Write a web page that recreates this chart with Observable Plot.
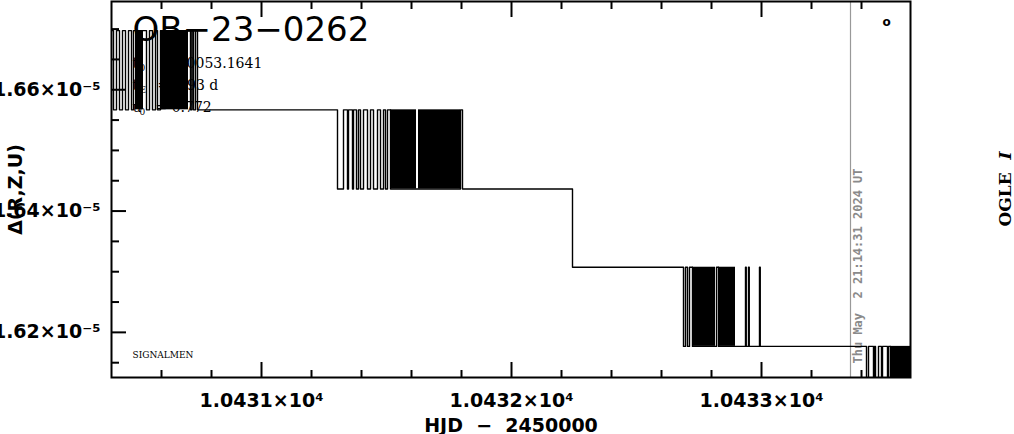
<!DOCTYPE html>
<html><head><meta charset="utf-8">
<script src="https://cdn.jsdelivr.net/npm/d3@7"></script>
<script src="https://cdn.jsdelivr.net/npm/@observablehq/plot@0.6"></script>
<style>body{margin:0;background:#fff;}</style>
</head><body><div id="chart"></div>
<script>
// Step levels of Δ(R,Z,U)
const levels = [1.66975e-5, 1.65669e-5, 1.64364e-5, 1.63074e-5, 1.61769e-5, 1.60463e-5];

// Trace: switch times (HJD-2450000) and level index held after each time
const traceHJD = [
  10430.400, 10430.408, 10430.420, 10430.432, 10430.444, 10430.456, 10430.468, 10430.480, 10430.488,
  10430.540, 10430.552, 10430.564, 10430.576, 10430.584, 10430.596,
  10430.716, 10430.722, 10430.728, 10430.736, 10430.744,
  10431.304, 10431.328, 10431.344, 10431.348, 10431.364, 10431.368, 10431.380, 10431.388, 10431.396,
  10431.408, 10431.424, 10431.436, 10431.448, 10431.464, 10431.476, 10431.488, 10431.496, 10431.504,
  10431.516, 10431.796, 10431.804,
  10432.244,
  10432.688, 10432.696, 10432.704, 10432.712, 10432.724, 10432.820, 10432.828,
  10432.936, 10432.939, 10432.948, 10432.951, 10432.992, 10432.995,
  10433.420, 10433.428, 10433.448, 10433.452, 10433.456, 10433.468, 10433.480, 10433.484,
  10433.504, 10433.508, 10433.516, 10433.596
];
const traceLevel = [
  0, 1, 0, 1, 0, 1, 0, 1, 0,
  1, 0, 1, 0, 1, 0,
  1, 0, 1, 0, 1,
  2, 1, 2, 1, 2, 1, 2, 1, 2,
  1, 2, 1, 2, 1, 2, 1, 2, 1,
  2, 1, 2,
  3,
  4, 3, 4, 3, 4, 3, 4,
  3, 4, 3, 4, 3, 4,
  5, 4, 5, 4, 5, 4, 5, 4,
  5, 4, 5, 5
];

// Densely sampled stretches that render solid black
const blockX1 = [10430.496, 10430.596, 10431.516, 10431.628, 10432.724, 10432.828, 10433.516];
const blockX2 = [10430.528, 10430.708, 10431.620, 10431.796, 10432.816, 10432.896, 10433.596];
const blockHi = [0, 0, 1, 1, 3, 3, 4];
const blockLo = [1, 1, 2, 2, 4, 4, 5];

// Axes
const xDomain = [10430.4, 10433.596];
const yDomain = [1.61256e-5, 1.67455e-5];
const xMajor = [10431, 10432, 10433];
const xMinor = [10430.6, 10430.8, 10431.2, 10431.4, 10431.6, 10431.8, 10432.2, 10432.4, 10432.6, 10432.8, 10433.2, 10433.4];
const yMajor = [1.62e-5, 1.64e-5, 1.66e-5];
const yMinor = [1.615e-5, 1.625e-5, 1.63e-5, 1.635e-5, 1.645e-5, 1.65e-5, 1.655e-5, 1.665e-5, 1.67e-5];
const nowHJD = 10433.356;

const title = "OB\u221223\u22120262";
const paramNames = ["t", "t", "u"];
const paramSubs = ["0", "E", "0"];
const paramValues = ["= 10053.1641", "= 9.93 d", "= 0.772"];
const stamp = "Thu May  2 21:14:31 2024 UT";
const xLabel = "HJD\u00a0\u00a0\u2212\u00a0\u00a02450000";

const trace = traceHJD.map((t, i) => ({t, v: levels[traceLevel[i]]}));
const blocks = blockX1.map((x1, i) => ({x1, x2: blockX2[i], y1: levels[blockLo[i]], y2: levels[blockHi[i]]}));

const fx = d => (d / 1e4).toFixed(4) + "\u00d710\u2074";
const fy = d => (d * 1e5).toFixed(2) + "\u00d710\u207b\u2075";

const serif = {fontFamily: "DejaVu Serif", fontWeight: "normal", frameAnchor: "top-left", textAnchor: "start", lineAnchor: "middle"};
const rowDy = [62, 84, 106];
const valueDx = [50, 46, 44];
const paramMarks = paramNames.flatMap((n, i) => [
  Plot.text([n], {...serif, fontSize: 14, dx: 21, dy: rowDy[i]}),
  Plot.text([paramSubs[i]], {...serif, fontSize: 9, dx: 28, dy: rowDy[i] + 5}),
  Plot.text([paramValues[i]], {...serif, fontSize: 14, dx: valueDx[i], dy: rowDy[i]})
]);

const chart = Plot.plot({
  width: 1014, height: 434,
  marginLeft: 111, marginRight: 104, marginTop: 1, marginBottom: 57,
  style: {fontFamily: "DejaVu Sans", fontWeight: "bold", fontSize: "19px", background: "#fff", color: "#000"},
  x: {domain: xDomain},
  y: {domain: yDomain},
  marks: [
    // texts under the trace
    Plot.text([title], {frameAnchor: "top-left", dx: 21, dy: 29, textAnchor: "start", lineAnchor: "middle",
      fontFamily: "DejaVu Sans", fontWeight: "normal", fontSize: 34}),
    ...paramMarks,
    Plot.text(["SIGNALMEN"], {frameAnchor: "bottom-left", dx: 21, dy: -22, textAnchor: "start", lineAnchor: "middle",
      fontFamily: "DejaVu Serif", fontWeight: "normal", fontSize: 9}),
    Plot.ruleX([nowHJD], {stroke: "#999", strokeWidth: 1.2}),
    Plot.text([stamp], {x: d => nowHJD, frameAnchor: "bottom", dx: 8, dy: -14, rotate: -90, textAnchor: "start",
      lineAnchor: "middle", fill: "#8a8a8a", fontFamily: "DejaVu Sans Mono", fontWeight: "bold", fontSize: 12}),
    Plot.text(["o"], {frameAnchor: "top-right", dx: -24, dy: 21, textAnchor: "middle", lineAnchor: "middle",
      fontFamily: "DejaVu Sans", fontWeight: "bold", fontSize: 12}),
    // data
    Plot.rect(blocks, {x1: "x1", x2: "x2", y1: "y1", y2: "y2", fill: "black", clip: true}),
    Plot.line(trace, {x: "t", y: "v", curve: "step-after", stroke: "black", strokeWidth: 1.4, clip: true}),
    // axes
    Plot.axisY(yMajor, {anchor: "left", tickSize: -15, tickPadding: 26, tickFormat: fy, label: null, strokeWidth: 2}),
    Plot.axisY(yMinor, {anchor: "left", tickSize: -8, tickFormat: () => "", label: null, strokeWidth: 2}),
    Plot.axisX(xMajor, {anchor: "bottom", tickSize: -15, tickPadding: 31, tickFormat: fx, label: null, strokeWidth: 2}),
    Plot.axisX(xMinor, {anchor: "bottom", tickSize: -7, tickFormat: () => "", label: null, strokeWidth: 2}),
    Plot.axisX(xMajor, {anchor: "top", tickSize: -15, tickFormat: () => "", label: null, strokeWidth: 2}),
    Plot.axisX(xMinor, {anchor: "top", tickSize: -7, tickFormat: () => "", label: null, strokeWidth: 2}),
    Plot.frame({stroke: "black", strokeWidth: 2}),
    Plot.text([xLabel], {frameAnchor: "bottom", dy: 48, textAnchor: "middle", lineAnchor: "middle", fontSize: 19}),
    Plot.text(["\u0394(R,Z,U)"], {frameAnchor: "left", dx: -96, rotate: -90, textAnchor: "middle", lineAnchor: "middle",
      fontSize: 19, letterSpacing: 2}),
    Plot.text(["OGLE"], {frameAnchor: "right", dx: 95, dy: 37, rotate: -90, textAnchor: "start", lineAnchor: "middle",
      fontFamily: "DejaVu Serif", fontSize: 17}),
    Plot.text(["I"], {frameAnchor: "right", dx: 95, dy: -30, rotate: -90, textAnchor: "start", lineAnchor: "middle",
      fontFamily: "DejaVu Serif", fontStyle: "italic", fontSize: 17})
  ]
});
document.getElementById("chart").appendChild(chart);
</script>
</body></html>
